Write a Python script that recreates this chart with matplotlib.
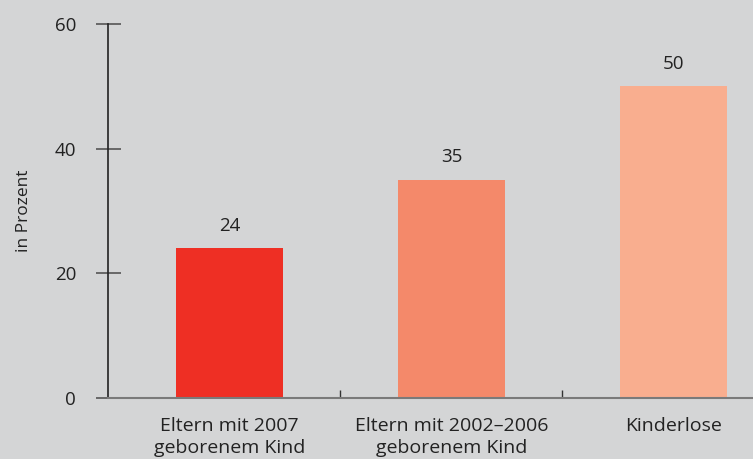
import matplotlib
matplotlib.use('Agg')
import matplotlib.pyplot as plt

categories = ['Eltern mit 2007\ngeborenem Kind', 'Eltern mit 2002\u20132006\ngeborenem Kind', 'Kinderlose']
values = [24, 35, 50]
colors = ['#ee2f24', '#f4896a', '#f9ae8f']
yticks = [0, 20, 40, 60]

plt.rcParams['font.family'] = ['Open Sans', 'DejaVu Sans']
bg = '#d4d5d6'

fig = plt.figure(figsize=(7.53, 4.59), dpi=100, facecolor=bg)
ax = fig.add_axes([108/753, 61/459, 645/753, 374/459])
ax.set_facecolor(bg)

x = range(len(categories))
ax.bar(x, values, width=0.48, color=colors, zorder=2)
for xi, v in zip(x, values):
    ax.text(xi, v + 2.2, str(v), ha='center', va='bottom', fontsize=13.5, color='#222222')

ax.set_xlim(-0.547, 2.358)
ax.set_ylim(0, 60)
ax.set_yticks(yticks)
ax.set_xticks(list(x))
ax.set_xticklabels(categories, fontsize=14, color='#222222', linespacing=1.25)
ax.set_xticks([0.5, 1.5], minor=True)

ax.tick_params(axis='y', direction='inout', length=18, width=1.2, color='#555555',
               labelsize=13.5, labelcolor='#222222', pad=14)
ax.tick_params(axis='x', which='major', length=0, pad=14)
ax.tick_params(axis='x', which='minor', direction='in', length=6, width=1, color='#333333')

ax.set_ylabel('in Prozent', fontsize=12.5, color='#222222', labelpad=16)

for s in ['top', 'right']:
    ax.spines[s].set_visible(False)
ax.spines['left'].set_color('#222222')
ax.spines['left'].set_linewidth(1.2)
ax.spines['bottom'].set_color('#7a7a7a')
ax.spines['bottom'].set_linewidth(1.5)

fig.savefig('out.png', dpi=100, facecolor=bg)
